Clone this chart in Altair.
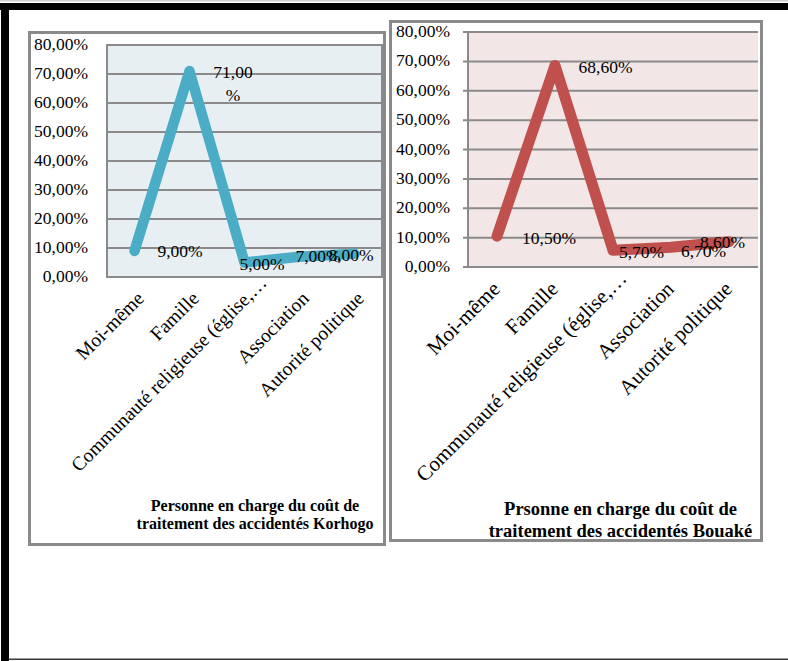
import altair as alt
import pandas as pd

# ---------------- data ----------------
categories = ["Moi-même", "Famille", "Communauté religieuse (église,…", "Association", "Autorité politique"]
korhogo = [0.09, 0.71, 0.05, 0.07, 0.08]
bouake = [0.105, 0.686, 0.057, 0.067, 0.086]
y_ticks = [0.0, 0.1, 0.2, 0.3, 0.4, 0.5, 0.6, 0.7, 0.8]
title_korhogo = ["Personne en charge du coût de", "traitement des accidentés Korhogo"]
title_bouake = ["Prsonne en charge du coût de", "traitement des accidentés Bouaké"]

# ---------------- layout / style ----------------
W, H = 788, 661
FONT = "Liberation Serif"
GRAY = "#8a8a8a"
LABEL_FMT = "replace(format(datum.val, '.2%'), '.', ',')"
TICK_FMT = "replace(format(datum.v, '.2%'), '.', ',')"

# label offsets (dx, dy) relative to each point, per panel
offs_k = [(45.5, 1), (43.5, 1.5), (17.5, 2.5), (18.5, 0), (-3.5, 2)]
offs_b = [(52, 3), (50.5, 2.5), (28.5, 3), (32.5, 4.5), (-6.5, 1.5)]


def rect(x, x2, y, y2, **kw):
    return alt.Chart(alt.Data(values=[{}])).mark_rect(**kw).encode(
        x=alt.value(x), x2=alt.value(x2), y=alt.value(y), y2=alt.value(y2)
    )


def panel(values, color, px0, px1, py0, py1, offs, xfont, xlab_y, xbaseline,
          long_shift, ylab_x, grid_x0, left_domain=False, wrap_idx=None,
          stroke_w=10.5):
    df = pd.DataFrame({"cat": categories, "val": values})
    ticks = pd.DataFrame({"v": y_ticks})
    cats = pd.DataFrame({"cat": categories})
    xs = alt.Scale(type="point", domain=categories, range=[px0, px1], padding=0.5)
    ys = alt.Scale(domain=[0, 0.8], range=[py1, py0], nice=False, zero=True)

    layers = []
    grid = alt.Chart(ticks).mark_rule(color=GRAY, strokeWidth=2).encode(
        y=alt.Y("v:Q", scale=ys, axis=None),
        x=alt.value(grid_x0), x2=alt.value(px1),
    )
    layers.append(grid)
    if left_domain:
        layers.append(
            alt.Chart(ticks).mark_rule(color=GRAY, strokeWidth=2).encode(
                x=alt.value(px0),
                y=alt.Y("min(v):Q", scale=ys, axis=None),
                y2=alt.Y2("max(v):Q"),
            )
        )
    ylabels = alt.Chart(ticks).transform_calculate(t=TICK_FMT).mark_text(
        font=FONT, fontSize=17.5, color="black", align="right", baseline="middle"
    ).encode(
        y=alt.Y("v:Q", scale=ys, axis=None),
        x=alt.value(ylab_x),
        text="t:N",
    )
    layers.append(ylabels)
    for j, cat in enumerate(categories):
        sdx, sdy = long_shift if j == 2 else (0, 0)
        layers.append(
            alt.Chart(cats).transform_filter(alt.datum.cat == cat).mark_text(
                font=FONT, fontSize=xfont, color="black", align="right",
                baseline=xbaseline, angle=315, dx=sdx, dy=sdy,
            ).encode(
                x=alt.X("cat:N", sort=categories, scale=xs, axis=None),
                y=alt.value(xlab_y),
                text="cat:N",
            )
        )
    line = alt.Chart(df).mark_line(
        color=color, strokeWidth=stroke_w, strokeCap="round", strokeJoin="round"
    ).encode(
        x=alt.X("cat:N", sort=categories, scale=xs, axis=None),
        y=alt.Y("val:Q", scale=ys, axis=None),
    )
    layers.append(line)

    for i, (cat, (dx, dy)) in enumerate(zip(categories, offs)):
        base = alt.Chart(df).transform_filter(
            alt.datum.cat == cat
        ).transform_calculate(lbl=LABEL_FMT)
        kw = {}
        if wrap_idx == i:
            base = base.transform_calculate(lbl="replace(datum.lbl, '%', ' %')")
            kw = {"lineBreak": " ", "lineHeight": 23}
        layers.append(
            base.mark_text(
                font=FONT, fontSize=17.5, color="black", align="center",
                baseline="middle", dx=dx, dy=dy, **kw
            ).encode(
                x=alt.X("cat:N", sort=categories, scale=xs, axis=None),
                y=alt.Y("val:Q", scale=ys, axis=None),
                text="lbl:N",
            )
        )
    return alt.layer(*layers)


# ---------------- decorations ----------------
decor = [
    rect(0, W, 0, 1.5, fill="#cfcfcf"),
    rect(0, W, 3, 10, fill="black"),
    rect(1, 9, 3, H, fill="black"),
    rect(9, W, 658.5, 660, fill="#3a3a3a"),
    # panel frames
    rect(29.5, 384.5, 32.5, 544.5, fill="white", stroke=GRAY, strokeWidth=3),
    rect(390.5, 761.5, 21.5, 540.5, fill="white", stroke=GRAY, strokeWidth=3),
    # plot backgrounds
    rect(107, 382, 45, 277, fill="#e8eff3", stroke=GRAY, strokeWidth=2),
    rect(468, 758, 32, 267, fill="#f2e7e6"),
]

titles = [
    alt.Chart(alt.Data(values=[{}])).mark_text(
        font=FONT, fontWeight="bold", fontSize=16, lineHeight=18,
        align="center", baseline="middle", color="black",
    ).encode(x=alt.value(255), y=alt.value(506), text=alt.value(title_korhogo)),
    alt.Chart(alt.Data(values=[{}])).mark_text(
        font=FONT, fontWeight="bold", fontSize=18.5, lineHeight=22,
        align="center", baseline="middle", color="black",
    ).encode(x=alt.value(620.5), y=alt.value(509), text=alt.value(title_bouake)),
]

pk = panel(
    korhogo, "#4bacc6", 107, 382, 45, 277, offs_k, 19.5, 289, "top", (20, -2),
    88, grid_x0=107, wrap_idx=1, stroke_w=10.5,
)
pb = panel(
    bouake, "#c0504d", 468, 758, 32, 267, offs_b, 21, 286, "middle", (15, 0),
    450, grid_x0=463, left_domain=True, stroke_w=11,
)

chart = alt.layer(*decor, pk, pb, *titles).resolve_scale(
    x="independent", y="independent"
).properties(
    width=W, height=H, padding=0, autosize=alt.AutoSizeParams(type="none"),
    background="white",
).configure_view(stroke=None)

chart.save("out.html", embed_options={"renderer": "svg", "actions": False})
